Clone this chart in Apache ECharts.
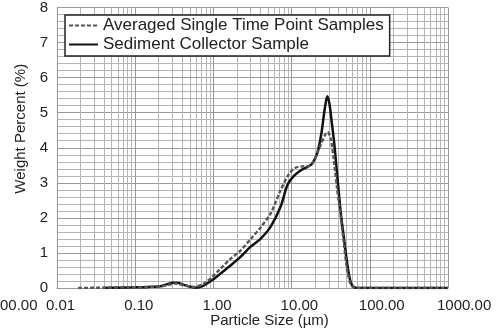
<!DOCTYPE html>
<html>
<head>
<meta charset="utf-8">
<script src="https://cdn.jsdelivr.net/npm/echarts@6/dist/echarts.min.js"></script>
<style>html,body{margin:0;padding:0;background:#fff;}#c{width:503px;height:333px;}</style>
</head>
<body>
<div id="c"></div>
<script>
// ---- data ----
var xTickLabels = ['0.01', '0.10', '1.00', '10.00', '100.00', '1000.00'];
var yTickLabels = ['0', '1', '2', '3', '4', '5', '6', '7', '8'];
var seriesNames = ['Averaged Single Time Point Samples', 'Sediment Collector Sample'];

var avgSize = [0.0186, 0.04, 0.08, 0.15, 0.21, 0.28, 0.33, 0.42, 0.56, 0.75, 0.96, 1.23, 1.65, 2.2, 3.0, 4.0, 5.4, 7.2, 9.2, 11.2, 14.0, 16.5, 19.2, 23.5, 27.3, 28.8, 31.6, 34.8, 38, 42.5, 46.5, 51, 56, 60, 66, 1000];
var avgWeight = [0.0, 0.01, 0.02, 0.03, 0.05, 0.10, 0.13, 0.08, 0.03, 0.12, 0.31, 0.55, 0.83, 1.06, 1.40, 1.72, 2.13, 2.78, 3.24, 3.43, 3.47, 3.48, 3.62, 4.08, 4.40, 4.45, 4.26, 3.61, 2.87, 2.03, 1.29, 0.55, 0.15, 0.04, 0.0, 0.0];

var sedSize = [0.039, 0.06, 0.10, 0.15, 0.21, 0.26, 0.31, 0.36, 0.42, 0.50, 0.60, 0.75, 0.96, 1.23, 1.65, 2.2, 3.0, 4.0, 5.4, 7.2, 8.9, 10.7, 13.2, 15.9, 18.4, 21.3, 24.0, 26.5, 28.6, 30.5, 32.5, 35.0, 38.0, 42.5, 46.5, 50.0, 54, 58, 63, 70, 1000];
var sedWeight = [0.00, 0.01, 0.02, 0.03, 0.05, 0.11, 0.15, 0.14, 0.09, 0.04, 0.01, 0.07, 0.22, 0.41, 0.64, 0.88, 1.18, 1.40, 1.75, 2.31, 2.95, 3.20, 3.36, 3.45, 3.55, 3.85, 4.40, 5.10, 5.47, 5.25, 4.75, 4.15, 3.30, 2.15, 1.45, 0.90, 0.40, 0.12, 0.02, 0.0, 0.0];

// ---- build ----
function pairs(xs, ys) { return xs.map(function (x, i) { return [x, ys[i]]; }); }
var decades = xTickLabels.map(function (s) { return parseFloat(s); });
var minorLines = [];
for (var d = 0; d < decades.length - 1; d++) {
  for (var m = 2; m <= 9; m++) minorLines.push({ xAxis: decades[d] * m });
}

var FONT = 'Liberation Sans, Arial, sans-serif';
var chart = echarts.init(document.getElementById('c'), null, { renderer: 'canvas' });
var gridL = 57, gridR = 55;
chart.setOption({
  animation: false,
  backgroundColor: '#fff',
  textStyle: { fontFamily: FONT },
  grid: [
    { left: gridL, right: gridR, top: 6, bottom: 40 },
    { left: gridL - 11, right: gridR + 11, top: 6, bottom: 40 }
  ],
  legend: {
    left: 65, top: 15,
    orient: 'vertical',
    data: seriesNames,
    backgroundColor: '#fff',
    borderColor: '#222', borderWidth: 1.5,
    padding: [2, 6, 3, 3],
    itemGap: 2, itemWidth: 29, itemHeight: 14,
    itemStyle: { opacity: 0 },
    textStyle: { fontSize: 17, lineHeight: 16, color: '#222', fontFamily: FONT },
    z: 10
  },
  xAxis: [{
    type: 'log', logBase: 10, min: decades[0], max: decades[decades.length - 1],
    gridIndex: 0,
    name: 'Particle Size (µm)', nameLocation: 'middle', nameGap: 25,
    nameTextStyle: { fontSize: 15, color: '#222', padding: [0, 0, 0, 34] },
    axisLine: { lineStyle: { color: '#999' } },
    axisTick: { show: false },
    axisLabel: { show: false },
    splitLine: { show: true, lineStyle: { color: '#999', width: 1 } },
    minorTick: { show: false }, minorSplitLine: { show: false }
  }, {
    type: 'log', logBase: 10, min: decades[0], max: decades[decades.length - 1],
    gridIndex: 1,
    axisLine: { show: false }, axisTick: { show: false }, splitLine: { show: false },
    axisLabel: {
      show: true, align: 'left', margin: 5, fontSize: 15, color: '#222',
      formatter: function (v, i) { return xTickLabels[i]; }
    }
  }],
  yAxis: [{
    type: 'value', min: 0, max: 8, interval: 1, gridIndex: 0,
    name: 'Weight Percent (%)', nameLocation: 'middle', nameGap: 27, nameRotate: 90,
    nameTextStyle: { fontSize: 15, color: '#222', padding: [0, 0, 0, 38] },
    axisLine: { show: true, lineStyle: { color: '#999' } },
    axisTick: { show: false },
    axisLabel: { margin: 9, fontSize: 15, color: '#222', formatter: function (v) { return yTickLabels[Math.round(v)]; } },
    splitLine: { show: true, lineStyle: { color: '#999', width: 1 } },
    minorTick: { show: false, splitNumber: 5 },
    minorSplitLine: { show: true, lineStyle: { color: '#b5b5b5', width: 1 } }
  }, {
    type: 'value', min: 0, max: 8, gridIndex: 1, show: false
  }],
  graphic: [{
    type: 'text', left: 0, top: 298,
    style: { text: '00.00', fill: '#222', font: '15px ' + FONT }
  }],
  series: [{
    name: seriesNames[1], type: 'line', xAxisIndex: 0, yAxisIndex: 0,
    data: pairs(sedSize, sedWeight),
    smooth: 0.3, symbol: 'none', showSymbol: false,
    lineStyle: { color: '#111', width: 2.5, type: 'solid' },
    itemStyle: { color: '#111' },
    z: 3,
    markLine: {
      silent: true, symbol: 'none', animation: false,
      label: { show: false },
      lineStyle: { color: '#b5b5b5', width: 1, type: 'solid' },
      data: minorLines, z: 1
    }
  }, {
    name: seriesNames[0], type: 'line', xAxisIndex: 0, yAxisIndex: 0,
    data: pairs(avgSize, avgWeight),
    smooth: 0.3, symbol: 'none', showSymbol: false,
    lineStyle: { color: '#555', width: 2.4, type: [4, 2] },
    itemStyle: { color: '#555' },
    z: 4
  }]
});
</script>
</body>
</html>
